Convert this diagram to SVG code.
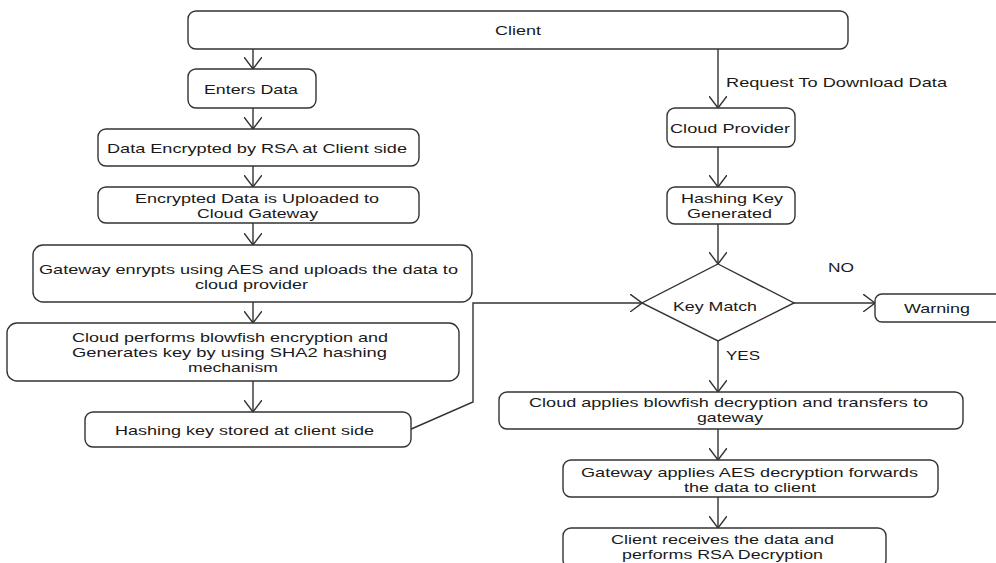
<svg xmlns="http://www.w3.org/2000/svg" width="996" height="563" viewBox="0 0 996 563">
<style>
.box{fill:#fff;stroke:#333;stroke-width:1.4}
.t{font-family:"Liberation Sans",Arial,sans-serif;font-size:13px;fill:#1a1a1a}
.c{fill:none;stroke:#333;stroke-width:1.4}
</style>
<defs>
<marker id="arr" markerUnits="userSpaceOnUse" viewBox="0 0 12 18" refX="12" refY="9" markerWidth="12" markerHeight="18" orient="auto">
<path d="M0,0 L12,9 L0,18" fill="none" stroke="#333" stroke-width="1.4"/>
</marker>
</defs>
<rect width="996" height="563" fill="#fff"/>
<g id="connectors">
<line class="c" x1="253" y1="49" x2="253" y2="69" marker-end="url(#arr)"/>
<line class="c" x1="253" y1="108" x2="253" y2="129" marker-end="url(#arr)"/>
<line class="c" x1="253" y1="166" x2="253" y2="187" marker-end="url(#arr)"/>
<line class="c" x1="253" y1="223" x2="253" y2="245" marker-end="url(#arr)"/>
<line class="c" x1="253" y1="302" x2="253" y2="323" marker-end="url(#arr)"/>
<line class="c" x1="253" y1="381" x2="253" y2="412" marker-end="url(#arr)"/>
<polyline class="c" points="409,430 473,402 473,303 642,303" marker-end="url(#arr)"/>
<line class="c" x1="718" y1="49" x2="718" y2="108" marker-end="url(#arr)"/>
<line class="c" x1="718" y1="147" x2="718" y2="187" marker-end="url(#arr)"/>
<line class="c" x1="718" y1="224" x2="718" y2="264" marker-end="url(#arr)"/>
<line class="c" x1="794" y1="303" x2="875" y2="303" marker-end="url(#arr)"/>
<line class="c" x1="718" y1="341" x2="718" y2="392" marker-end="url(#arr)"/>
<line class="c" x1="718" y1="429" x2="718" y2="460" marker-end="url(#arr)"/>
<line class="c" x1="718" y1="497" x2="718" y2="528" marker-end="url(#arr)"/>
<text class="t" x="726" y="87" textLength="221" lengthAdjust="spacingAndGlyphs">Request To Download Data</text>
<text class="t" x="828" y="272" textLength="26" lengthAdjust="spacingAndGlyphs">NO</text>
<text class="t" x="726" y="360" textLength="34" lengthAdjust="spacingAndGlyphs">YES</text>
</g>
<g id="client">
<rect class="box" x="188" y="11" width="660" height="38" rx="8"/>
<text class="t" x="495" y="35" textLength="46" lengthAdjust="spacingAndGlyphs">Client</text>
</g>
<g id="enters-data">
<rect class="box" x="188" y="69" width="128" height="39" rx="8"/>
<text class="t" x="204" y="94" textLength="94" lengthAdjust="spacingAndGlyphs">Enters Data</text>
</g>
<g id="rsa-encrypt">
<rect class="box" x="98" y="129" width="321" height="37" rx="8"/>
<text class="t" x="107" y="153" textLength="300" lengthAdjust="spacingAndGlyphs">Data Encrypted by RSA at Client side</text>
</g>
<g id="upload-gateway">
<rect class="box" x="98" y="187" width="321" height="36" rx="8"/>
<text class="t" x="135" y="203" textLength="244" lengthAdjust="spacingAndGlyphs">Encrypted Data is Uploaded to</text>
<text class="t" x="197" y="218" textLength="121" lengthAdjust="spacingAndGlyphs">Cloud Gateway</text>
</g>
<g id="aes-encrypt">
<rect class="box" x="33" y="245" width="439" height="57" rx="10"/>
<text class="t" x="39" y="274" textLength="419" lengthAdjust="spacingAndGlyphs">Gateway enrypts using AES and uploads the data to</text>
<text class="t" x="195" y="289" textLength="113" lengthAdjust="spacingAndGlyphs">cloud provider</text>
</g>
<g id="blowfish-encrypt">
<rect class="box" x="7" y="323" width="452" height="58" rx="10"/>
<text class="t" x="72" y="342" textLength="316" lengthAdjust="spacingAndGlyphs">Cloud performs blowfish encryption and</text>
<text class="t" x="72" y="357" textLength="315" lengthAdjust="spacingAndGlyphs">Generates key by using SHA2 hashing</text>
<text class="t" x="188" y="372" textLength="90" lengthAdjust="spacingAndGlyphs">mechanism</text>
</g>
<g id="hash-stored">
<rect class="box" x="85" y="412" width="326" height="35" rx="8"/>
<text class="t" x="115" y="435" textLength="259" lengthAdjust="spacingAndGlyphs">Hashing key stored at client side</text>
</g>
<g id="cloud-provider">
<rect class="box" x="667" y="108" width="128" height="39" rx="8"/>
<text class="t" x="670" y="133" textLength="120" lengthAdjust="spacingAndGlyphs">Cloud Provider</text>
</g>
<g id="hash-generated">
<rect class="box" x="667" y="187" width="128" height="37" rx="8"/>
<text class="t" x="681" y="203" textLength="102" lengthAdjust="spacingAndGlyphs">Hashing Key</text>
<text class="t" x="687" y="218" textLength="85" lengthAdjust="spacingAndGlyphs">Generated</text>
</g>
<g id="key-match">
<polygon class="box" points="718,264 794,303 718,341 642,303"/>
<text class="t" x="673" y="311" textLength="84" lengthAdjust="spacingAndGlyphs">Key Match</text>
</g>
<g id="warning">
<rect class="box" x="875" y="294" width="130" height="28" rx="7"/>
<text class="t" x="904" y="313" textLength="66" lengthAdjust="spacingAndGlyphs">Warning</text>
</g>
<g id="blowfish-decrypt">
<rect class="box" x="499" y="392" width="464" height="37" rx="8"/>
<text class="t" x="529" y="407" textLength="399" lengthAdjust="spacingAndGlyphs">Cloud applies blowfish decryption and transfers to</text>
<text class="t" x="697" y="422" textLength="66" lengthAdjust="spacingAndGlyphs">gateway</text>
</g>
<g id="aes-decrypt">
<rect class="box" x="563" y="460" width="375" height="37" rx="8"/>
<text class="t" x="581" y="477" textLength="337" lengthAdjust="spacingAndGlyphs">Gateway applies AES decryption forwards</text>
<text class="t" x="684" y="492" textLength="132" lengthAdjust="spacingAndGlyphs">the data to client</text>
</g>
<g id="rsa-decrypt">
<rect class="box" x="563" y="528" width="323" height="40" rx="8"/>
<text class="t" x="611" y="544" textLength="223" lengthAdjust="spacingAndGlyphs">Client receives the data and</text>
<text class="t" x="622" y="559" textLength="201" lengthAdjust="spacingAndGlyphs">performs RSA Decryption</text>
</g>
</svg>
